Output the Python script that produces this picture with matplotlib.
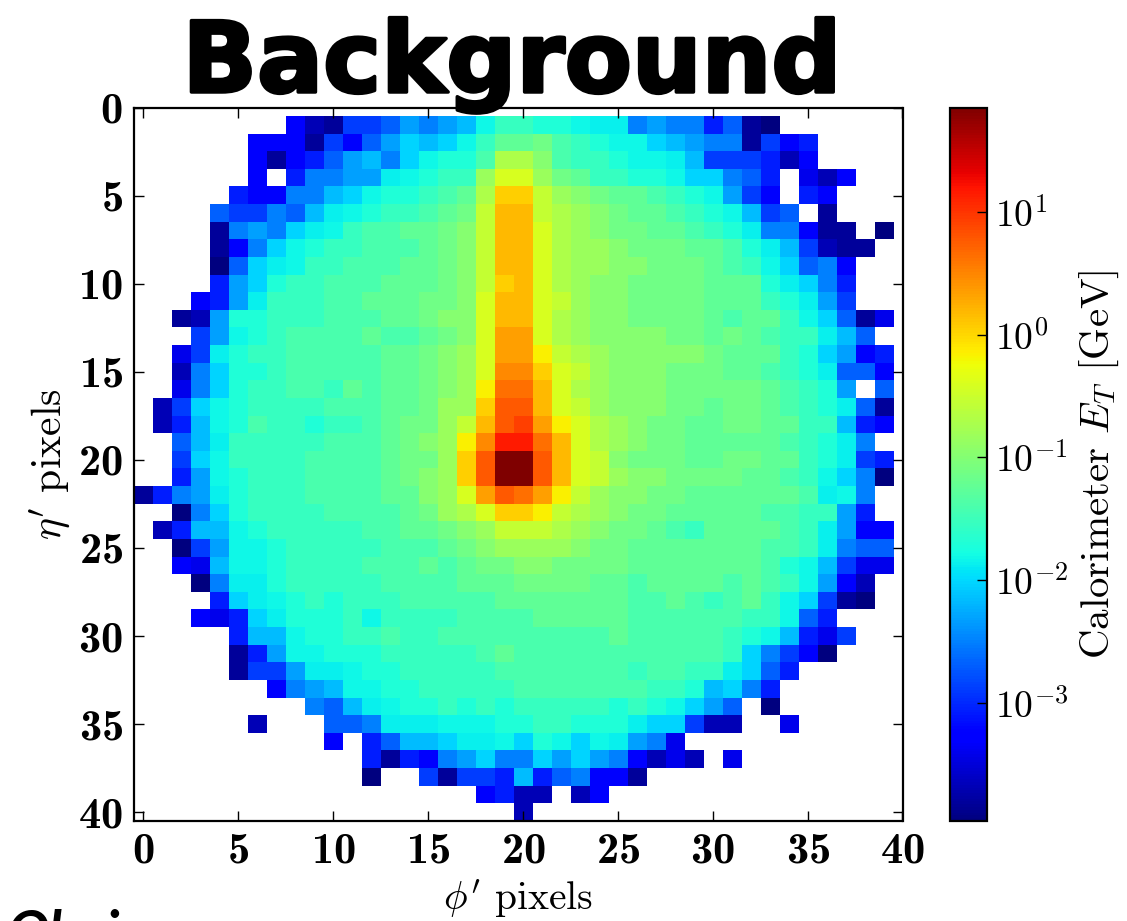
import matplotlib
matplotlib.use('Agg')
import matplotlib.pyplot as plt
import matplotlib.patheffects as pe
from matplotlib.colors import LogNorm
import numpy as np

# calorimeter image, one char per cell: '.' is empty, 0-9a-z is an index into level_pos
# rows are eta' 1..40, columns are phi' 0..39
rows = [
    "........421667989adffeedcc89885710......",
    "......44416479babdfhhigfeddba9881645....",
    "......414579a8bdeeglljgffeddca666524....",
    "......4.58899cdeffknnkihffeedbb875.324..",
    ".....54488abdeefghlppmkjihhgfed964.54...",
    "....76687acdeffghimqqmlkjihhgfeda67.1...",
    "....1898bcdfgghhijmqqnlkjiihhgfec88411.0",
    "....148bdeffggghijmqqnlkkjiiihhgeca6211.",
    "....07bcdffggghhijmqqnlkkjjiiihgfdb784..",
    "....59beffggghhhijmpqnlkjjiiiihhhecb85..",
    "...459cfffgghhhiijnqqnmkjjiiiihhhfec96..",
    "..129eefffggghhijjnqqnlkjjiiiihghhfdb713",
    "...69defgggghgghijnrrnlkjjjjiihihgffca7.",
    "..36ceffggggghhijknrromlkjjjjjihhhfeb945",
    "..28beefggggghhijknsspnmkjjjiiihhgfec774",
    "..38beffggfhghhijkottqnlkjjjiiiiihgfe9.7",
    ".26bdeffffggghhikkpuuqnmkjjjiihiihgfec71",
    ".25adegffeffghiikmquvronlkjiihhiihhffa54",
    "..7acfffffggghijkoswwtqnlkjiihhhhhgfec8.",
    "..6bdffffgggghiikpuzzuqnmjiiihhiihhfec65",
    "..59defffgggghijkpuzzuqnmkjjiiiihhgfdb80",
    "1589cefffgggghhjknrutromkjjiihhhhhhgcd8.",
    "..08beffffgggghiklnppomlkjiihhhhhggff95.",
    ".25aadefffffgghhijkmmmlkjiihgfhhhhgfc944",
    "..069ddefffffggghijkkkkjiihhhhhhhggfc877",
    "..43addeffffggghghiijjiiiihhhhhhhgeda633",
    "...08ccefffffgggghhhiiiihhghhhhghgfd942.",
    "....5bcdefefffggggghhhhhhhgghgfghfdb610.",
    "...435bceeefdffffgggghhhhhggggggffd75...",
    ".....5aadeeffgffggggggggghgggggfeda536..",
    ".....159ddeeefffffghgggggggggggfb8640...",
    ".....1669ccdeefffffgggggggfggffcb75.....",
    ".......489addeefffffgggggggffeab85......",
    ".........87acdeefefefffffefedb97.0......",
    "......2...778cccdddeeffeeecbb622..3.....",
    "..........4.57aabccdbedbdc983...........",
    "............515489b88b9b984232.3........",
    "............0..61665a578441.............",
    "..................4522.24...............",
    "....................2...................",
]

# where each level sits on the colour bar, 0 = bottom, 1 = top
level_pos = [0.0, 0.024, 0.047, 0.095, 0.11, 0.156, 0.187, 0.219, 0.25, 0.282, 0.309, 0.333,
             0.36, 0.368, 0.388, 0.415, 0.438, 0.466, 0.488, 0.512, 0.536, 0.562, 0.586, 0.612,
             0.655, 0.69, 0.714, 0.74, 0.765, 0.79, 0.816, 0.843, 0.88, 0.945, 0.97, 1.0]

log_min = -3.96
log_max = 1.85
x_ticks = [0, 5, 10, 15, 20, 25, 30, 35, 40]
y_ticks = [0, 5, 10, 15, 20, 25, 30, 35, 40]
cbar_ticks = [1e-3, 1e-2, 1e-1, 1e0, 1e1]

pos = np.array([[np.nan if c == '.' else level_pos[int(c, 36)] for c in r] for r in rows])
energy = 10 ** (log_min + pos * (log_max - log_min))

plt.rcParams['font.family'] = ['cmr10', 'DejaVu Serif']
plt.rcParams['mathtext.fontset'] = 'cm'
plt.rcParams['axes.formatter.use_mathtext'] = True

W, H = 1127, 921
fig = plt.figure(figsize=(W / 100, H / 100), dpi=100)

# pixel boxes measured on the reference
def box(x0, x1, y0, y1):
    return [x0 / W, 1 - y1 / H, (x1 - x0) / W, (y1 - y0) / H]

ax = fig.add_axes(box(134, 902.5, 107.5, 821))
cax = fig.add_axes(box(950, 987, 107.5, 821))

im = ax.imshow(energy, cmap='jet', norm=LogNorm(10 ** log_min, 10 ** log_max),
               extent=(-0.5, 39.5, 40.5, 0.5), aspect='auto', interpolation='nearest')
ax.set_xlim(-0.5, 40)
ax.set_ylim(40.5, 0)
ax.set_xticks(x_ticks)
ax.set_yticks(y_ticks)
ax.tick_params(direction='in', top=True, right=True, length=7, width=1, labelsize=32, pad=8)
for lab in ax.get_xticklabels() + ax.get_yticklabels():
    lab.set_family('cmb10')
ax.set_xlabel(r"$\phi'$ pixels", fontsize=28.5, labelpad=4)
ax.set_ylabel(r"$\eta'$ pixels", fontsize=30, labelpad=4)
for s in ax.spines.values():
    s.set_linewidth(1.6)

cb = fig.colorbar(im, cax=cax)
cb.set_ticks(cbar_ticks)
cb.minorticks_off()
cb.ax.tick_params(direction='in', length=7, width=1, labelsize=27, pad=6)
cb.set_label(r"Calorimeter $E_T$ [GeV]", fontsize=29.5, labelpad=6)
cb.outline.set_linewidth(1.6)

title = fig.text(512 / W, 1 - 92 / H, 'Background', family='DejaVu Sans', weight='bold', fontsize=70.5,
                 ha='center', va='baseline', color='black', zorder=10)
title.set_path_effects([pe.withStroke(linewidth=2.5, foreground='black')])

# next slide text, only its top edge is inside the frame
fig.text(8 / W, 1 - 950 / H, 'Obvious', family='Lato', weight='bold', style='italic',
         fontsize=40, ha='left', va='baseline', color='black')

fig.savefig('out.png', dpi=100)
